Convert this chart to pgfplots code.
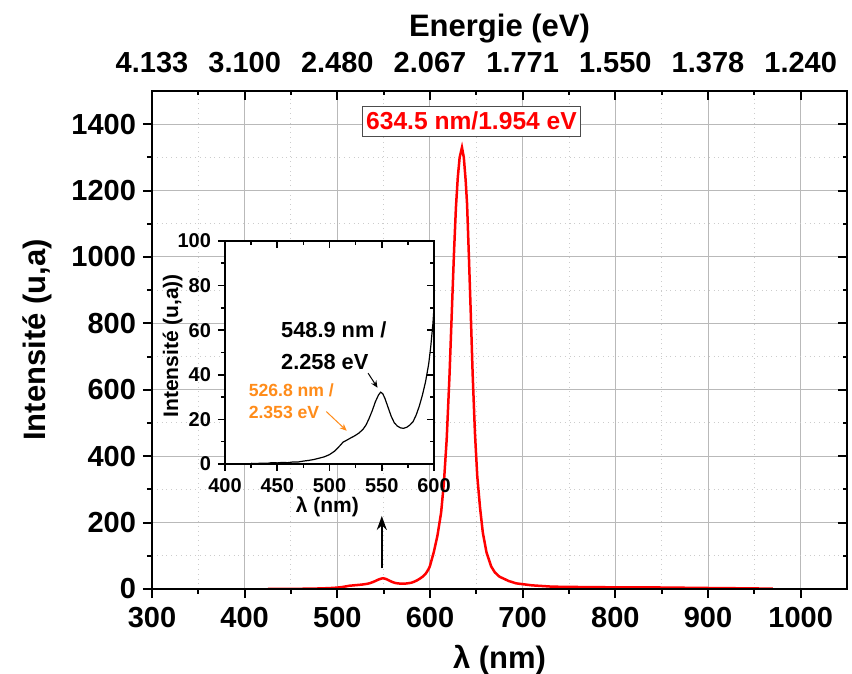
\documentclass[border=0pt]{standalone}
\usepackage{fontspec}
\setmainfont{Liberation Sans}
\usepackage{pgfplots}
\usepackage{pgfplotstable}
\pgfplotsset{compat=1.18}
\usetikzlibrary{arrows.meta}
\definecolor{peakred}{RGB}{255,0,0}
\definecolor{shoulder}{RGB}{255,140,26}

% photoluminescence spectrum
\pgfplotstableread{
nm I
425 0.3
430 0.2
435 0.4
440 0.3
445 0.6
450 0.5
455 0.7
460 0.6
465 0.9
470 0.9
475 1.3
480 1.6
485 2.0
490 2.6
495 3.2
500 4.2
505 5.8
510 8.2
513 9.8
517 10.8
520 11.6
524 12.6
528 13.8
532 15.5
535 17.5
538 20.5
541 24
544 28
547 31
549 32.2
551 31.5
553 29.5
556 25.5
559 21.5
562 18.5
565 17
568 16.2
571 16.0
574 16.5
577 17.5
580 19
583 22
586 26
589 31
592 37
595 45
597 53
599 63
600 70
604 110
608 160
612 230
615 320
618 450
621 640
624 869
626 1020
628 1150
630 1240
632 1300
634.5 1330
636.5 1300
638.5 1230
640 1160
642 1000
644 830
646 650
648.5 470
651 340
654 245
657 170
661 110
666 68
670 50
675 37
685 24
693 17
710 11
732 7
760 6
800 5
850 4.5
900 3
940 2
970 1
}\spectrum

\begin{document}
\begin{tikzpicture}
% main axis: ticks outside on left and bottom
\begin{axis}[name=main, scale only axis, width=347.5pt, height=249pt,
  xmin=300, xmax=1050, ymin=0, ymax=1500,
  xtick={300,400,...,1000}, ytick={0,200,...,1400},
  minor x tick num=1, minor y tick num=1,
  xtick pos=left, ytick pos=left, tick align=outside,
  major tick length=4.5pt, minor tick length=2.5pt,
  every tick/.append style={black, line width=1pt},
  axis line style={line width=1pt},
  grid=both,
  major grid style={gray!55, line width=0.5pt},
  minor grid style={gray!40, dotted, line width=0.5pt},
  /pgf/number format/assume math mode=true,
  /pgf/number format/1000 sep={},
  tick label style={font=\fontsize{14.5}{17}\selectfont\bfseries},
  xticklabel style={yshift=-1pt},
  label style={font=\fontsize{15.5}{18}\selectfont\bfseries},
  xlabel={λ (nm)},
  xlabel style={at={(axis description cs:0.5,-0.1426)}, anchor=center},
  ylabel={Intensité (u,a)},
  ylabel style={at={(axis description cs:-0.1655,0.5)}, anchor=center},
]
\addplot[peakred, line width=1.25pt] table[x=nm, y=I]{\spectrum};
\draw[black, line width=1pt, -{Stealth[length=7pt, width=5pt]}] (axis cs:548,62) -- (axis cs:548,220);
\node[draw=gray!60!black, line width=0.5pt, fill=white, text=peakred, inner xsep=2pt, inner ysep=3pt,
  font=\fontsize{12.3}{14}\selectfont\bfseries] at (axis cs:644.8,1409) {634.5 nm/1.954 eV};
\coordinate (insetpos) at (rel axis cs:0.105,0.251);
\end{axis}
% energy scale on top, inward ticks on top and right
\begin{axis}[at={(main.south west)}, anchor=south west, scale only axis, width=347.5pt, height=249pt,
  xmin=300, xmax=1050, ymin=0, ymax=1500,
  xtick={300,400,...,1000},
  xticklabels={4.133,3.100,2.480,2.067,1.771,1.550,1.378,1.240},
  ytick={0,200,...,1400}, yticklabels={},
  minor x tick num=1, minor y tick num=1,
  xtick pos=right, ytick pos=right, xticklabel pos=right, tick align=inside,
  major tick length=4.5pt, minor tick length=2.25pt,
  every tick/.append style={black, line width=1pt},
  axis line style={line width=1pt},
  tick label style={font=\fontsize{14.5}{17}\selectfont\bfseries},
  xticklabel style={yshift=5.5pt},
  label style={font=\fontsize{15.5}{18}\selectfont\bfseries},
  xlabel={Energie (eV)},
  xlabel style={at={(axis description cs:0.5,1.126)}, anchor=center},
]
\end{axis}
% inset, 400-600 nm
\begin{axis}[name=inset, at={(insetpos)}, anchor=south west, scale only axis,
  width=104.5pt, height=111.5pt,
  xmin=400, xmax=600, ymin=0, ymax=100,
  xtick={400,450,...,600}, ytick={0,20,...,100},
  minor x tick num=1, minor y tick num=1,
  xtick pos=left, ytick pos=left, tick align=outside,
  major tick length=3.5pt, minor tick length=2pt,
  every tick/.append style={black, line width=0.8pt},
  axis line style={line width=0.8pt},
  axis background/.style={fill=white},
  /pgf/number format/assume math mode=true,
  tick label style={font=\fontsize{10}{12}\selectfont\bfseries},
  label style={font=\fontsize{10.5}{12}\selectfont\bfseries},
  xlabel={λ (nm)},
  xlabel style={at={(axis description cs:0.49,-0.19)}, anchor=center},
  ylabel={Intensité (u,a))},
  ylabel style={at={(axis description cs:-0.25,0.53)}, anchor=center},
]
\addplot[black, line width=0.6pt] table[x=nm, y=I]{\spectrum};
\node[anchor=west, align=left, font=\fontsize{10.9}{15.8}\selectfont\bfseries] at (axis cs:447,53) {548.9 nm /\\2.258 eV};
\node[anchor=west, align=left, text=shoulder, font=\fontsize{8.8}{11}\selectfont\bfseries] at (axis cs:416,28) {526.8 nm /\\2.353 eV};
\draw[black, line width=0.5pt, -{Stealth[length=3.5pt, width=3pt]}] (axis cs:537,40.7) -- (axis cs:546,34.2);
\draw[shoulder, line width=0.5pt, -{Stealth[length=3.5pt, width=3pt]}] (axis cs:497,23.5) -- (axis cs:516.5,14.9);
\end{axis}
\begin{axis}[at={(inset.south west)}, anchor=south west, scale only axis,
  width=104.5pt, height=111.5pt,
  xmin=400, xmax=600, ymin=0, ymax=100,
  xtick={400,450,...,600}, ytick={0,20,...,100},
  xticklabels={}, yticklabels={},
  minor x tick num=1, minor y tick num=1,
  xtick pos=right, ytick pos=right, tick align=inside,
  major tick length=3.5pt, minor tick length=2pt,
  every tick/.append style={black, line width=0.8pt},
  axis line style={line width=0.8pt},
]
\end{axis}
\pgfresetboundingbox
\path ([shift={(-76pt,-42.5pt)}]main.south west) rectangle ([shift={(2.5pt,45.5pt)}]main.north east);
\end{tikzpicture}
\end{document}
